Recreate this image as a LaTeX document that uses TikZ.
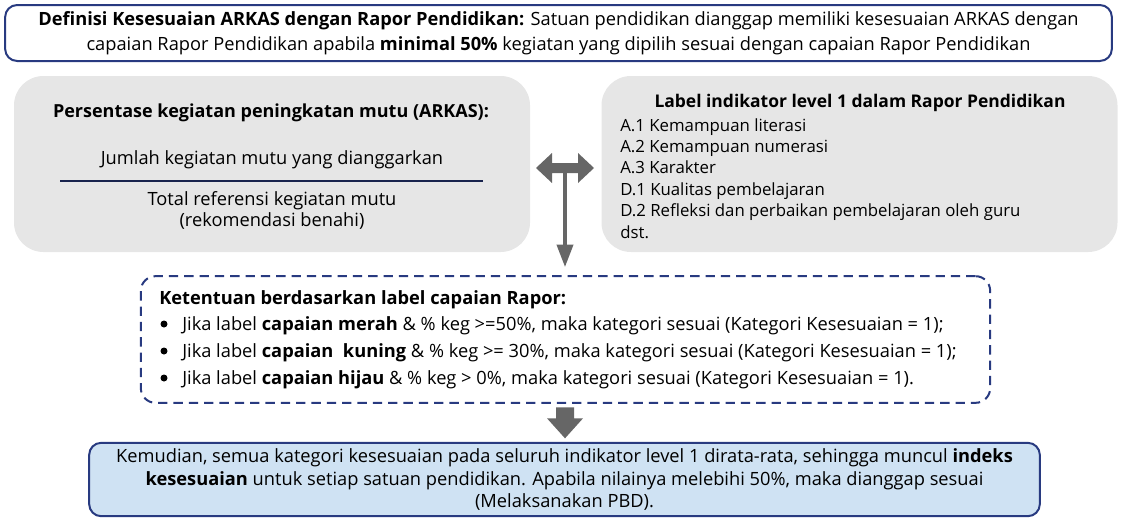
\documentclass[tikz,border=0pt]{standalone}
\usepackage{fontspec}
\setmainfont{Open Sans}
\usetikzlibrary{arrows.meta, calc}
\definecolor{navy}{RGB}{40,58,128}
\definecolor{boxgray}{RGB}{230,230,230}
\definecolor{arrowgray}{RGB}{102,102,102}
\definecolor{paleblue}{RGB}{207,226,243}
\tikzset{
    txt/.style = {font=\fontsize{13.7}{16}\selectfont, inner sep=0pt},
    small/.style = {font=\fontsize{12.6}{15.75}\selectfont, inner sep=0pt},
    outline/.style = {draw=navy, line width=1.5pt, rounded corners=9pt},
    graybox/.style = {fill=boxgray, rounded corners=22pt, minimum width=387pt, minimum height=132pt},
    pics/swaparrow/.style = {
        code = {%
        \fill[arrowgray] (-29,0) -- (-13,-15) -- (-13,-5) -- (13,-5) -- (13,-15) -- (29,0)
            -- (13,15) -- (13,5) -- (-13,5) -- (-13,15) -- cycle;
        }
    },
    pics/blockdown/.style = {
        code = {%
        \fill[arrowgray] (-9,-15.5) -- (9,-15.5) -- (9,-4.5) -- (18,-4.5) -- (0,15.5)
            -- (-18,-4.5) -- (-9,-4.5) -- cycle;
        }
    },
}
\begin{document}
\begin{tikzpicture}[x=0.75pt,y=-0.75pt]
\useasboundingbox (0,0) rectangle (1121,518);

% definisi
\node[outline, txt, align=center, minimum width=830pt, minimum height=42pt, font=\fontsize{13.7}{18.75}\selectfont] (defbox) at (558.5,33)
{\textbf{Definisi Kesesuaian ARKAS dengan Rapor Pendidikan:} Satuan pendidikan dianggap memiliki kesesuaian ARKAS dengan\\
capaian Rapor Pendidikan apabila \textbf{minimal 50\%} kegiatan yang dipilih sesuai dengan capaian Rapor Pendidikan};

% persentase ARKAS
\node[graybox] (arkas) at (272,164) {};
\node[txt, anchor=base, font=\fontsize{13.5}{16}\selectfont] (arkastitle) at (271,117) {\textbf{Persentase kegiatan peningkatan mutu (ARKAS):}};
\node[txt, anchor=base] (num) at (272,164) {Jumlah kegiatan mutu yang dianggarkan};
\draw[navy!60!black, line width=1.1pt] (60,181) -- (483,181);
\node[txt, anchor=base] (den1) at (272,205) {Total referensi kegiatan mutu};
\node[txt, anchor=base] (den2) at (272,226) {(rekomendasi benahi)};

% label rapor
\node[graybox] (rapor) at (859.5,164) {};
\node[txt, anchor=base, font=\fontsize{13.1}{16}\selectfont] (raportitle) at (860,107) {\textbf{Label indikator level 1 dalam Rapor Pendidikan}};
\foreach \t [count=\i] in {A.1 Kemampuan literasi, A.2 Kemampuan numerasi, A.3 Karakter,
    D.1 Kualitas pembelajaran, D.2 Refleksi dan perbaikan pembelajaran oleh guru, dst.}
    \node[small, anchor=base west] (item\i) at (620,{131+21.4*(\i-1)}) {\t};

% ketentuan
\node[draw=navy, line width=1.5pt, dash pattern=on 7pt off 4.5pt, rounded corners=11pt,
    minimum width=637pt, minimum height=95pt] (rules) at (565.5,339.5) {};
\node[txt, anchor=base west] (rulestitle) at (159,304) {\textbf{Ketentuan berdasarkan label capaian Rapor:}};
\fill (164,324) circle (3.5);
\node[txt, anchor=base west] (rule1) at (182,330) {Jika label \textbf{capaian merah} \& \% keg >=50\%, maka kategori sesuai (Kategori Kesesuaian = 1);};
\fill (164,351) circle (3.5);
\node[txt, anchor=base west] (rule2) at (182,357) {Jika label \textbf{capaian\ \ kuning} \& \% keg >= 30\%, maka kategori sesuai (Kategori Kesesuaian = 1);};
\fill (164,378) circle (3.5);
\node[txt, anchor=base west] (rule3) at (182,384) {Jika label \textbf{capaian hijau} \& \% keg > 0\%, maka kategori sesuai (Kategori Kesesuaian = 1).};

% hasil
\node[outline, fill=paleblue, txt, align=center, minimum width=713pt, minimum height=55pt, font=\fontsize{13.7}{17}\selectfont] (result) at (564.5,479.5)
{Kemudian, semua kategori kesesuaian pada seluruh indikator level 1 dirata-rata, sehingga muncul \textbf{indeks}\\
\textbf{kesesuaian} untuk setiap satuan pendidikan. Apabila nilainya melebihi 50\%, maka dianggap sesuai\\
(Melaksanakan PBD).};

% panah
\coordinate (swap) at (565,168);
\draw[arrowgray, line width=3pt, -{Triangle[length=17pt,width=12pt]}, shorten >=6pt] (swap) -- (swap |- rules.north);
\pic at (swap) {swaparrow};
\coordinate (down) at ($(rules.south)!0.5!(result.north)$);
\pic at (down) {blockdown};

\end{tikzpicture}
\end{document}
